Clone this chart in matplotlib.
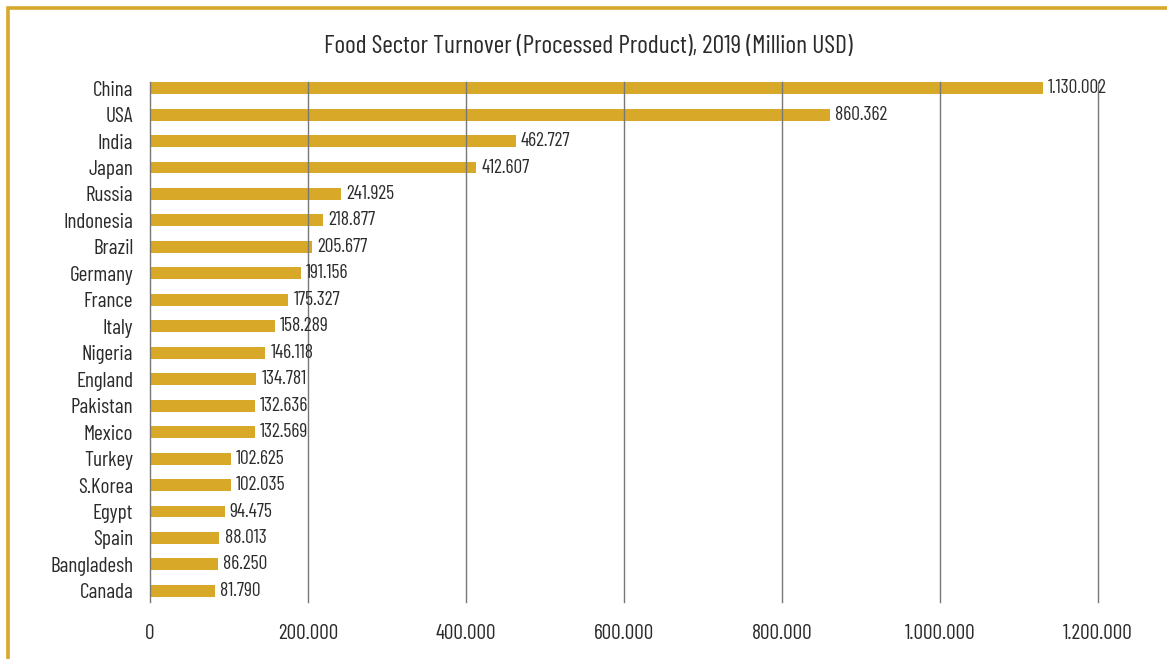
import matplotlib.pyplot as plt
from matplotlib.patches import Rectangle
from matplotlib.ticker import FuncFormatter

countries = ['China', 'USA', 'India', 'Japan', 'Russia', 'Indonesia', 'Brazil',
             'Germany', 'France', 'Italy', 'Nigeria', 'England', 'Pakistan',
             'Mexico', 'Turkey', 'S.Korea', 'Egypt', 'Spain', 'Bangladesh', 'Canada']
turnover = [1130002, 860362, 462727, 412607, 241925, 218877, 205677,
            191156, 175327, 158289, 146118, 134781, 132636,
            132569, 102625, 102035, 94475, 88013, 86250, 81790]
ticks = [0, 200000, 400000, 600000, 800000, 1000000, 1200000]

plt.rcParams['font.family'] = ['Barlow Condensed', 'DejaVu Sans']
plt.rcParams['font.weight'] = 400

gold = '#D8A929'
txt = '#2b2b2b'


def dots(v, pos=None):
    return f'{int(v):,}'.replace(',', '.')


fig = plt.figure(figsize=(11.67, 6.59), dpi=100)
ax = fig.add_axes([0.1285, 0.0865, 0.8124, 0.789])

pos = list(range(len(countries)))
ax.barh(pos, turnover, height=0.45, color=gold, zorder=1)
for y, v in zip(pos, turnover):
    ax.text(v + 6500, y, dots(v), va='center', ha='left', fontsize=14, color=txt, zorder=3)

ax.set_ylim(len(countries) - 1 + 0.42, -0.23)
ax.set_xlim(0, 1200000)
ax.set_xticks(ticks)
ax.xaxis.set_major_formatter(FuncFormatter(dots))
ax.set_yticks(pos)
ax.set_yticklabels(countries)
ax.tick_params(axis='both', length=0, colors=txt)
ax.tick_params(axis='x', pad=16, labelsize=15.3)
ax.tick_params(axis='y', pad=19, labelsize=15.3)
ax.tick_params(axis='y', pad=12)

for t in ticks:
    ax.axvline(t, color='#777777', lw=1.0, zorder=2, clip_on=False)
for s in ax.spines.values():
    s.set_visible(False)

fig.text(0.504, 0.93, 'Food Sector Turnover (Processed Product), 2019 (Million USD)',
         ha='center', va='center', fontsize=18.5, color=txt)

# gold frame around the panel
fig.add_artist(Rectangle((7.5 / 1167, -0.05), 1.2, 1 - 7.5 / 659 + 0.05,
                         transform=fig.transFigure, fill=False,
                         edgecolor=gold, lw=2.6))

fig.savefig('out.png', dpi=100)
